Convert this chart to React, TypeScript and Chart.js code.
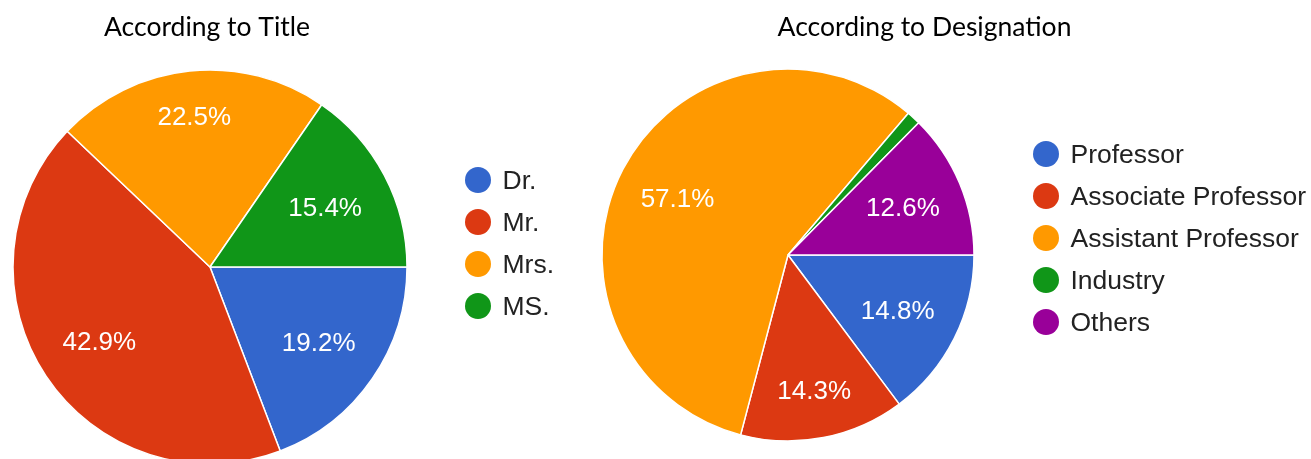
import React, { useEffect, useRef } from "react";
import { Chart, registerables } from "chart.js";

Chart.register(...registerables);

// ---- data ----
const titleCategories = ["Dr.", "Mr.", "Mrs.", "MS."];
const titleValues = [19.2, 42.9, 22.5, 15.4];

const designationCategories = [
  "Professor",
  "Associate Professor",
  "Assistant Professor",
  "Industry",
  "Others",
];
const designationValues = [14.8, 14.3, 57.1, 1.2, 12.6];

const chartTitles = ["According to Title", "According to Designation"];

// ---- styles ----
const titleColors = ["#3366cc", "#dc3912", "#ff9900", "#109618"];
const designationColors = ["#3366cc", "#dc3912", "#ff9900", "#109618", "#990099"];

const W = 1311;
const H = 470;

const decorPlugin = {
  id: "pieDecor",
  afterDraw(chart: any, _args: any, opts: any) {
    const ctx = chart.ctx;
    const meta = chart.getDatasetMeta(0);
    const ds = chart.data.datasets[0];
    const data: number[] = ds.data as number[];
    const total = data.reduce((a, b) => a + b, 0);
    ctx.save();

    // slice labels
    ctx.fillStyle = "#ffffff";
    ctx.font = '26px "Liberation Sans", Arial, sans-serif';
    ctx.textAlign = "center";
    ctx.textBaseline = "alphabetic";
    meta.data.forEach((arc: any, i: number) => {
      const pct = (data[i] / total) * 100;
      if (pct < 5) return;
      const p = arc.getProps(["x", "y", "startAngle", "endAngle", "outerRadius"], true);
      const mid = (p.startAngle + p.endAngle) / 2;
      const r = p.outerRadius * opts.labelRadius[i];
      ctx.fillText(pct.toFixed(1) + "%", p.x + Math.cos(mid) * r, p.y + Math.sin(mid) * r + 9.3);
    });

    // legend
    const labels: string[] = chart.data.labels as string[];
    const colors: string[] = ds.backgroundColor as string[];
    ctx.textAlign = "left";
    labels.forEach((lab, i) => {
      const cy = opts.legendY + i * opts.legendStep;
      ctx.beginPath();
      ctx.arc(opts.legendX, cy, 13, 0, Math.PI * 2);
      ctx.fillStyle = colors[i];
      ctx.fill();
      ctx.fillStyle = "#222222";
      ctx.font = '26.5px "Liberation Sans", Arial, sans-serif';
      ctx.fillText(lab, opts.legendX + 24.5, cy + 9.3);
    });

    // title
    ctx.fillStyle = "#000000";
    ctx.font = '26.5px Lato, "Open Sans", sans-serif';
    ctx.textAlign = "center";
    ctx.fillText(opts.title, opts.titleX, 36);

    ctx.restore();
  },
};

function makeConfig(
  labels: string[],
  values: number[],
  colors: string[],
  cx: number,
  cy: number,
  radius: number,
  decor: any
): any {
  return {
    type: "pie",
    data: {
      labels,
      datasets: [
        {
          data: values,
          backgroundColor: colors,
          borderColor: "#ffffff",
          borderWidth: 1.5,
          radius,
        },
      ],
    },
    options: {
      responsive: false,
      animation: false,
      devicePixelRatio: 1,
      rotation: 90,
      layout: {
        padding: {
          left: cx - radius,
          right: W - (cx + radius),
          top: cy - radius,
          bottom: H - (cy + radius),
        },
      },
      plugins: {
        legend: { display: false },
        title: { display: false },
        tooltip: { enabled: false },
        pieDecor: decor,
      },
    },
    plugins: [decorPlugin],
  };
}

function PieCanvas({ config }: { config: any }) {
  const ref = useRef<HTMLCanvasElement | null>(null);
  useEffect(() => {
    if (!ref.current) return;
    const chart = new Chart(ref.current, config);
    return () => chart.destroy();
  }, [config]);
  return (
    <canvas
      ref={ref}
      width={W}
      height={H}
      style={{ position: "absolute", left: 0, top: 0, width: W, height: H }}
    />
  );
}

const leftConfig = makeConfig(titleCategories, titleValues, titleColors, 210, 267, 197, {
  labelRadius: [0.67, 0.675, 0.77, 0.66],
  legendX: 478,
  legendY: 180,
  legendStep: 42,
  title: chartTitles[0],
  titleX: 207,
});

const rightConfig = makeConfig(
  designationCategories,
  designationValues,
  designationColors,
  788,
  255,
  186,
  {
    labelRadius: [0.66, 0.74, 0.67, 0, 0.67],
    legendX: 1046,
    legendY: 154,
    legendStep: 42,
    title: chartTitles[1],
    titleX: 924.5,
  }
);

export default function App() {
  useEffect(() => {
    document.body.style.margin = "0";
  }, []);
  return (
    <div
      style={{
        position: "fixed",
        left: 0,
        top: 0,
        width: W,
        height: 459,
        overflow: "hidden",
        background: "#ffffff",
      }}
    >
      <PieCanvas config={leftConfig} />
      <PieCanvas config={rightConfig} />
    </div>
  );
}
